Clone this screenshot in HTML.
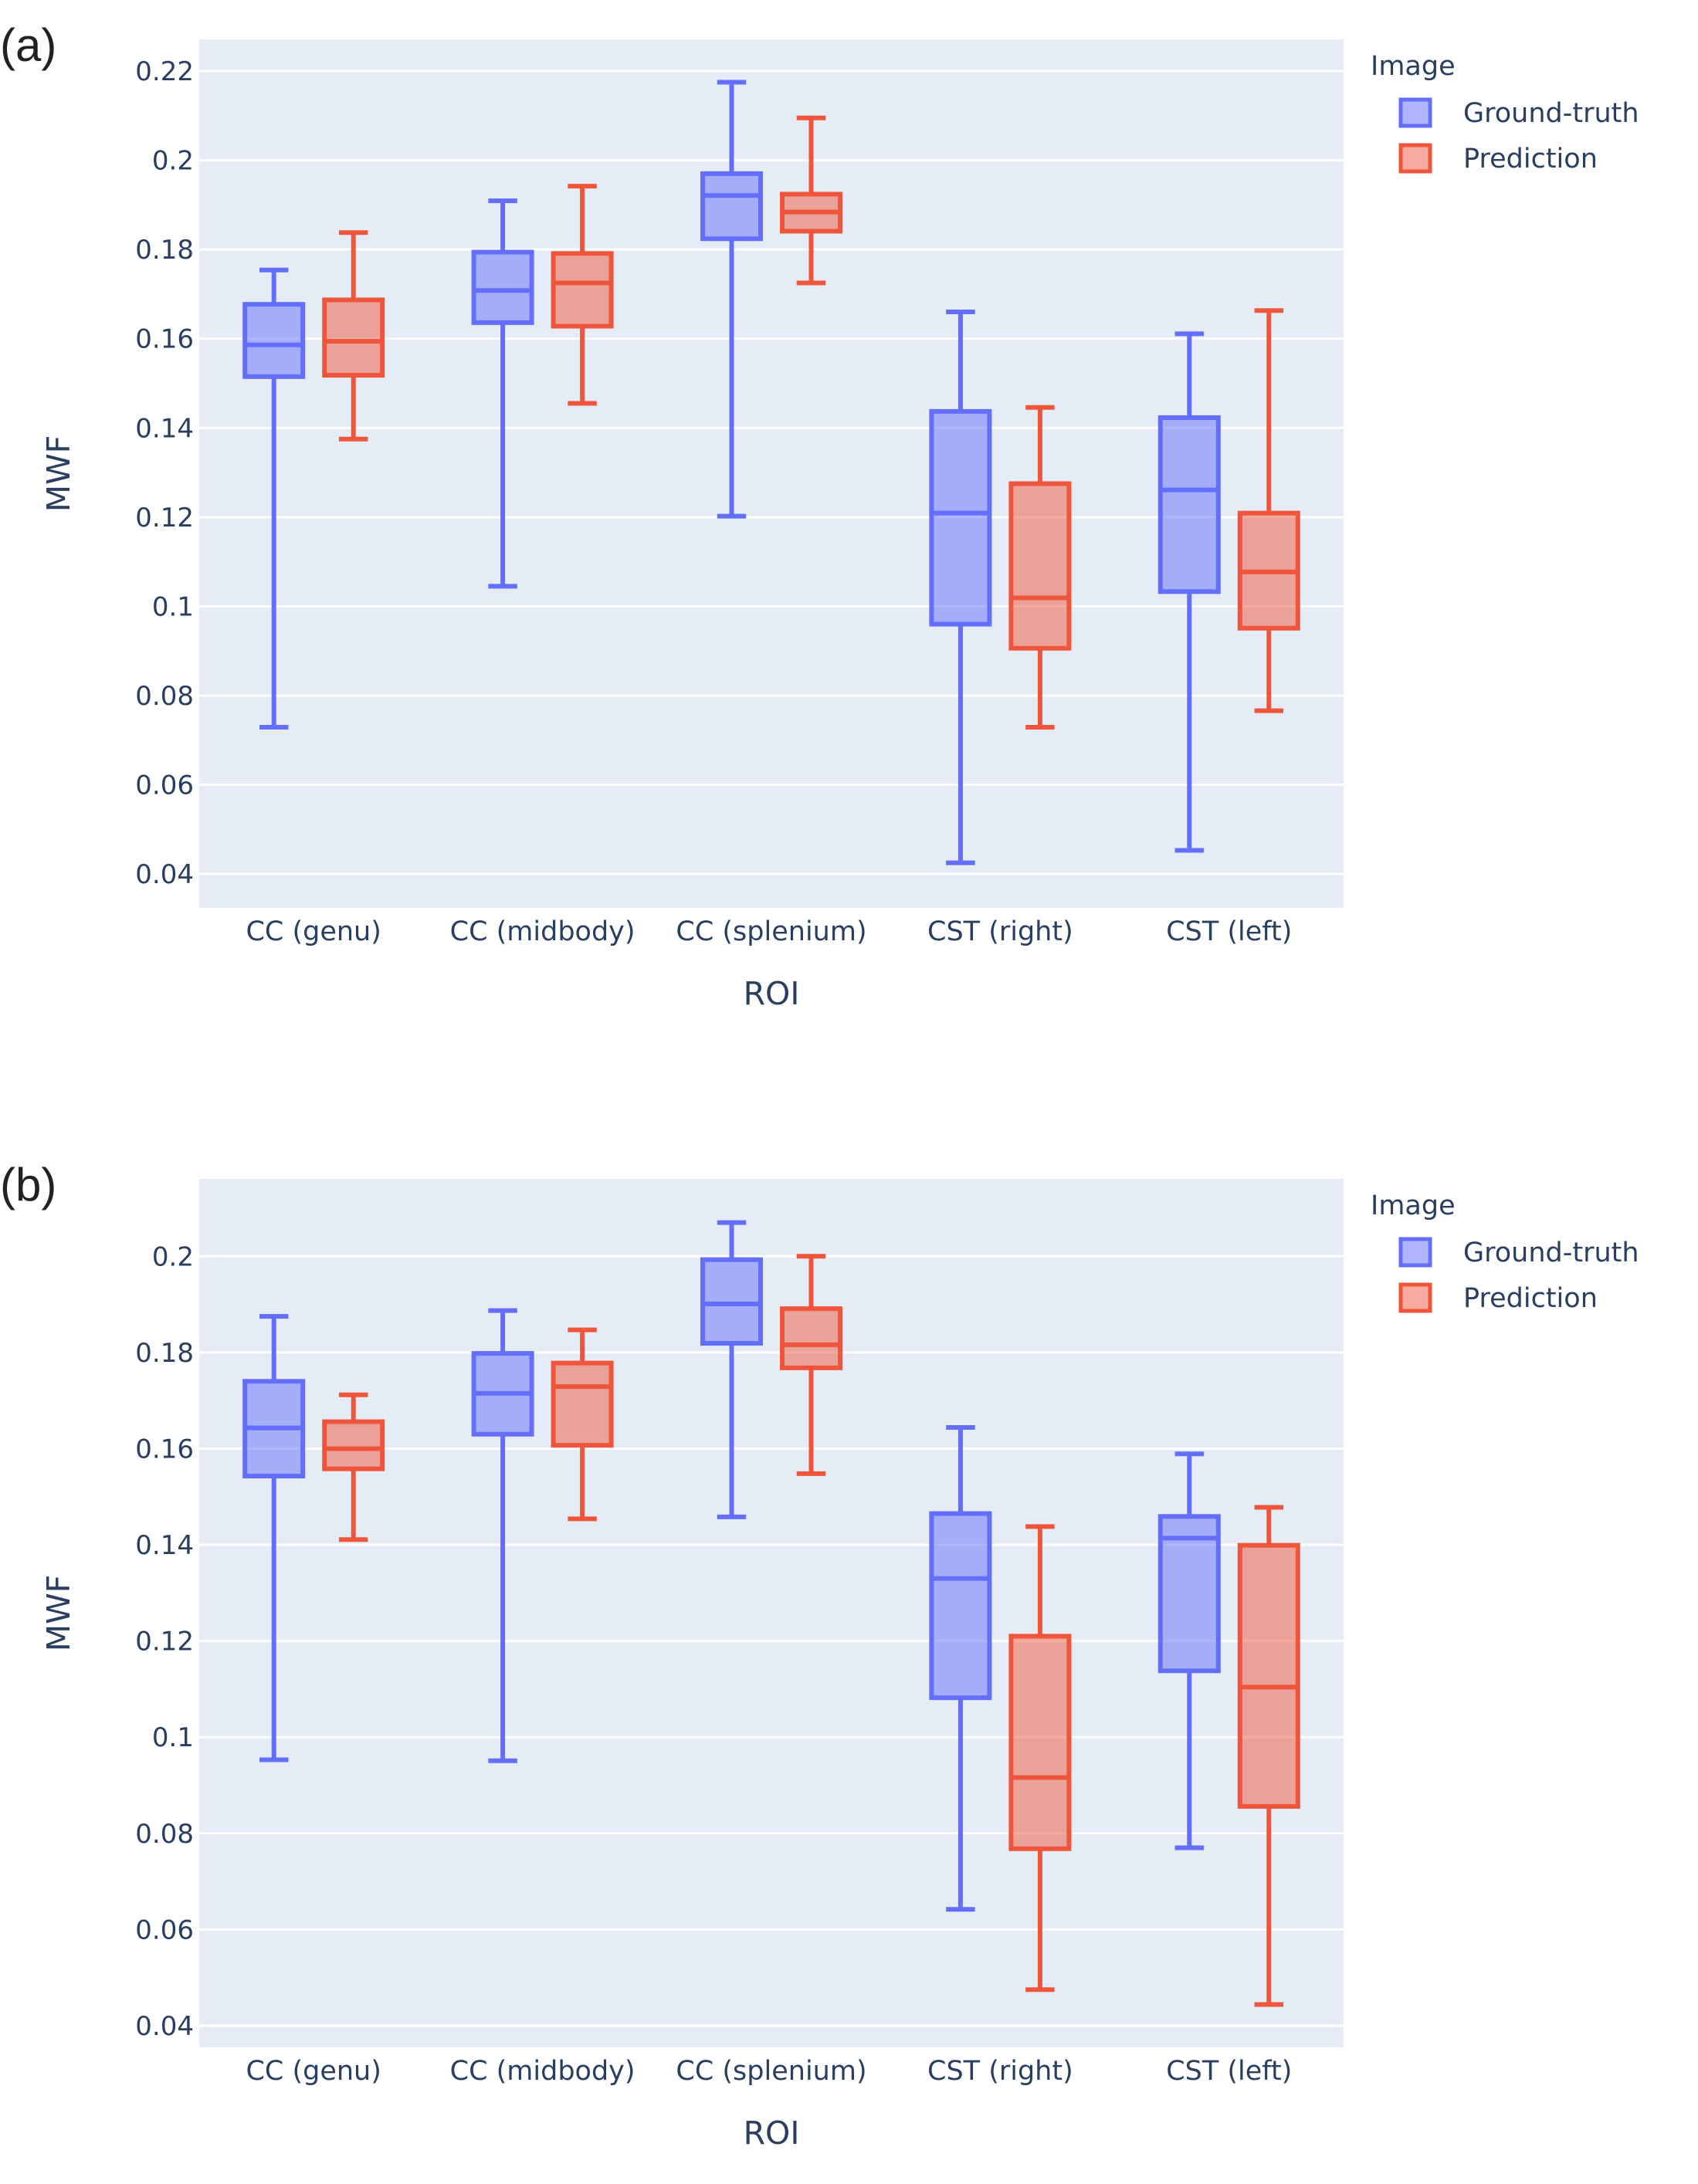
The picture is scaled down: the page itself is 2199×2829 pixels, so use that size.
<!DOCTYPE html>
<html><head><meta charset="utf-8"><style>
html,body{margin:0;padding:0;background:#fff;}
svg{display:block;font-family:"DejaVu Sans","Liberation Sans",sans-serif;}
</style></head><body>
<svg id="fig" width="2199" height="2829" viewBox="0 0 2199 2829" xmlns="http://www.w3.org/2000/svg"></svg>
<script>
const categories = ["CC (genu)","CC (midbody)","CC (splenium)","CST (right)","CST (left)"];
// [upper whisker, q3, median, q1, lower whisker]
const gtA = [[0.1754,0.1677,0.1586,0.1515,0.0729],[0.1909,0.1794,0.1708,0.1636,0.1045],[0.2175,0.1970,0.1921,0.1824,0.1202],[0.1660,0.1437,0.1209,0.0960,0.0425],[0.1611,0.1423,0.1261,0.1033,0.0453]];
const predA = [[0.1838,0.1687,0.1594,0.1518,0.1375],[0.1942,0.1791,0.1725,0.1628,0.1455],[0.2095,0.1924,0.1884,0.1841,0.1725],[0.1446,0.1275,0.1019,0.0906,0.0729],[0.1663,0.1209,0.1077,0.0951,0.0766]];
const gtB = [[0.1875,0.1740,0.1643,0.1543,0.0953],[0.1887,0.1798,0.1715,0.1630,0.0951],[0.2070,0.1993,0.1901,0.1819,0.1458],[0.1644,0.1465,0.1330,0.1082,0.0642],[0.1589,0.1459,0.1414,0.1138,0.0770]];
const predB = [[0.1712,0.1656,0.1600,0.1558,0.1411],[0.1847,0.1778,0.1729,0.1607,0.1454],[0.2000,0.1891,0.1816,0.1768,0.1548],[0.1438,0.1210,0.0916,0.0768,0.0475],[0.1478,0.1399,0.1104,0.0856,0.0444]];
const ticksA = [0.04,0.06,0.08,0.1,0.12,0.14,0.16,0.18,0.2,0.22];
const ticksB = [0.04,0.06,0.08,0.1,0.12,0.14,0.16,0.18,0.2];
const tickLabelsA = ["0.04","0.06","0.08","0.1","0.12","0.14","0.16","0.18","0.2","0.22"];
const tickLabelsB = ["0.04","0.06","0.08","0.1","0.12","0.14","0.16","0.18","0.2"];
const seriesNames = ["Ground-truth","Prediction"];

const NS="http://www.w3.org/2000/svg";
const svg=document.getElementById('fig');
function mk(tag,attrs,parent){const e=document.createElementNS(NS,tag);for(const k in attrs)e.setAttribute(k,attrs[k]);(parent||svg).appendChild(e);return e;}
const colors=[{line:"#636efa",fill:"rgba(99,110,250,0.5)"},{line:"#EF553B",fill:"rgba(239,85,59,0.5)"}];

function panel(label,top,bottom,ymin,ymax,ticks,tickLabels,gt,pred,key){
  const L=258,R=1740;
  const g=mk('g',{});
  
  
  const y=v=>bottom-(v-ymin)/(ymax-ymin)*(bottom-top);
  const bw=(R-L)/categories.length;
  const xc=i=>L+bw*(i+0.5);
  const bg=mk('rect',{x:L,y:top,width:R-L,height:bottom-top,fill:"#E5ECF6"},g);
  
  
  const pl=mk('text',{x:0,y:top+28,'font-size':60,fill:"#222","font-family":"Liberation Sans, sans-serif"},g);pl.textContent=label;
  
  
  ticks.forEach((t,i)=>{
    const gl=mk('line',{x1:L,x2:R,y1:y(t),y2:y(t),stroke:"#fff","stroke-width":3},g);
    
    
    const tl=mk('text',{x:251,y:y(t)+12,'font-size':34,fill:"#2a3f5f","text-anchor":"end"},g);
    tl.textContent=tickLabels[i];
    
    
  });
  categories.forEach((c,i)=>{
    const xl=mk('text',{x:xc(i),y:bottom+42,'font-size':35,fill:"#2a3f5f","text-anchor":"middle"},g);
    xl.textContent=c;
    
    
  });
  const xt=mk('text',{x:(L+R)/2,y:bottom+125,'font-size':41,fill:"#2a3f5f","text-anchor":"middle"},g);
  xt.textContent="ROI";
  
  
  const ym=(top+bottom)/2;
  const yt=mk('text',{x:0,y:0,'font-size':41,fill:"#2a3f5f","text-anchor":"middle",transform:`translate(90,${ym}) rotate(-90)`},g);
  yt.textContent="MWF";
  
  
  const boxW=75, off=51.5;
  [gt,pred].forEach((ser,s)=>{
    ser.forEach((d,i)=>{
      const cx=xc(i)+(s===0?-off:off);
      const bx=mk('g',{},g);
      
      
      const col=colors[s];
      mk('line',{x1:cx,x2:cx,y1:y(d[0]),y2:y(d[1]),stroke:col.line,'stroke-width':6},bx);
      mk('line',{x1:cx,x2:cx,y1:y(d[3]),y2:y(d[4]),stroke:col.line,'stroke-width':6},bx);
      mk('line',{x1:cx-boxW/4,x2:cx+boxW/4,y1:y(d[0]),y2:y(d[0]),stroke:col.line,'stroke-width':6},bx);
      mk('line',{x1:cx-boxW/4,x2:cx+boxW/4,y1:y(d[4]),y2:y(d[4]),stroke:col.line,'stroke-width':6},bx);
      mk('rect',{x:cx-boxW/2,y:y(d[1]),width:boxW,height:y(d[3])-y(d[1]),fill:col.fill,stroke:col.line,'stroke-width':6},bx);
      mk('line',{x1:cx-boxW/2,x2:cx+boxW/2,y1:y(d[2]),y2:y(d[2]),stroke:col.line,'stroke-width':6},bx);
    });
  });
  const lg=mk('g',{},g);
  
  
  const lt=mk('text',{x:1775,y:top+46,'font-size':35,fill:"#2a3f5f"},lg);lt.textContent="Image";
  
  
  seriesNames.forEach((n,s)=>{
    const cy=top+95+s*59;
    const en=mk('g',{},lg);
    
    
    mk('rect',{x:1814,y:cy-17,width:38,height:34,fill:colors[s].fill,stroke:colors[s].line,'stroke-width':5},en);
    const tx=mk('text',{x:1895,y:cy+12,'font-size':35,fill:"#2a3f5f"},en);tx.textContent=n;
  });
}
panel("(a)",51,1176,0.0324,0.2271,ticksA,tickLabelsA,gtA,predA,'a');
panel("(b)",1527,2652,0.0355,0.2161,ticksB,tickLabelsB,gtB,predB,'b');
</script>
</body></html>
